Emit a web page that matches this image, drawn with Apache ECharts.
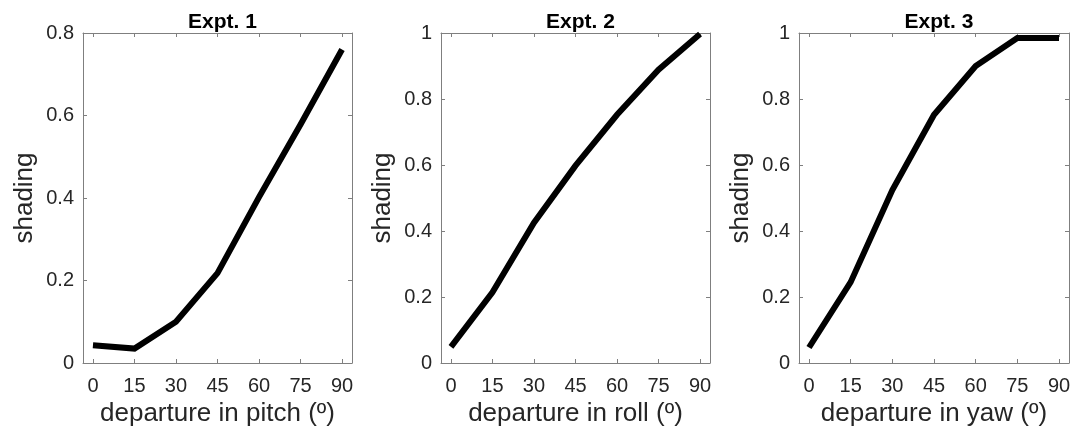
<!DOCTYPE html>
<html>
<head>
<meta charset="utf-8">
<script src="https://cdn.jsdelivr.net/npm/echarts@6/dist/echarts.min.js"></script>
<style>
html,body{margin:0;padding:0;background:#fff;}
#chart{width:1084px;height:427px;}
</style>
</head>
<body>
<div id="chart"></div>
<script>
// ---- data ----
const departures = [0, 15, 30, 45, 60, 75, 90];
const xTicks = [0, 15, 30, 45, 60, 75, 90];
const titles = ['Expt. 1', 'Expt. 2', 'Expt. 3'];
const xNames = ['departure in pitch (º)', 'departure in roll (º)', 'departure in yaw (º)'];
const expt1 = [0.043, 0.035, 0.100, 0.218, 0.402, 0.578, 0.760];
const expt2 = [0.049, 0.214, 0.425, 0.598, 0.752, 0.889, 0.997];
const expt3 = [0.047, 0.245, 0.524, 0.752, 0.900, 0.985, 0.985];
const yTicks1 = [0, 0.2, 0.4, 0.6, 0.8];
const yTicks23 = [0, 0.2, 0.4, 0.6, 0.8, 1];
const yMax = [0.8, 1, 1];

const seriesData = [expt1, expt2, expt3];
const yTickSets = [yTicks1, yTicks23, yTicks23];

const FONT = '"Liberation Sans", Arial, Helvetica, sans-serif';
const AX = '#7f7f7f';
const TXT = '#262626';

const grids = [
  {left: 83, top: 33, width: 269, height: 330, outerBoundsMode: 'none', containLabel: false},
  {left: 441, top: 33, width: 269, height: 330, outerBoundsMode: 'none', containLabel: false},
  {left: 799, top: 33, width: 270, height: 330, outerBoundsMode: 'none', containLabel: false}
];

const xAxes = [], yAxes = [], series = [], title = [];
grids.forEach((g, i) => {
  const lineStyle = {color: AX, width: 1};
  xAxes.push({
    type: 'value', gridIndex: i, min: -3.6, max: 93.6, position: 'bottom',
    axisLine: {show: true, onZero: false, lineStyle},
    axisTick: {show: true, inside: true, length: 4, lineStyle, customValues: xTicks},
    axisLabel: {show: true, customValues: xTicks, color: TXT, fontSize: 20, fontFamily: FONT, margin: 13},
    splitLine: {show: false},
    name: xNames[i], nameLocation: 'middle', nameGap: 38,
    nameTextStyle: {color: TXT, fontSize: 26, fontFamily: FONT}
  });
  xAxes.push({
    type: 'value', gridIndex: i, min: -3.6, max: 93.6, position: 'top',
    axisLine: {show: true, onZero: false, lineStyle},
    axisTick: {show: true, inside: true, length: 4, lineStyle, customValues: xTicks},
    axisLabel: {show: false},
    splitLine: {show: false}
  });
  yAxes.push({
    type: 'value', gridIndex: i, min: 0, max: yMax[i], position: 'left',
    axisLine: {show: true, onZero: false, lineStyle},
    axisTick: {show: true, inside: true, length: 4, lineStyle, customValues: yTickSets[i]},
    axisLabel: {show: true, customValues: yTickSets[i], color: TXT, fontSize: 20, fontFamily: FONT, margin: 9},
    splitLine: {show: false},
    name: 'shading', nameLocation: 'middle', nameGap: 45,
    nameTextStyle: {color: TXT, fontSize: 26, fontFamily: FONT}
  });
  yAxes.push({
    type: 'value', gridIndex: i, min: 0, max: yMax[i], position: 'right',
    axisLine: {show: true, onZero: false, lineStyle},
    axisTick: {show: true, inside: true, length: 4, lineStyle, customValues: yTickSets[i]},
    axisLabel: {show: false},
    splitLine: {show: false}
  });
  series.push({
    type: 'line', xAxisIndex: 2 * i, yAxisIndex: 2 * i,
    data: departures.map((d, k) => [d, seriesData[i][k]]),
    showSymbol: false, symbol: 'none',
    lineStyle: {color: '#000', width: 6, cap: 'butt', join: 'miter'},
    animation: false, silent: true
  });
  title.push({
    text: titles[i], left: g.left + g.width / 2, top: 7, textAlign: 'center',
    textStyle: {fontFamily: FONT, fontWeight: 'bold', fontSize: 21, color: '#000'}
  });
});

const chart = echarts.init(document.getElementById('chart'), null, {renderer: 'canvas'});
chart.setOption({
  animation: false,
  backgroundColor: '#fff',
  title,
  grid: grids,
  xAxis: xAxes,
  yAxis: yAxes,
  series
});
</script>
</body>
</html>
